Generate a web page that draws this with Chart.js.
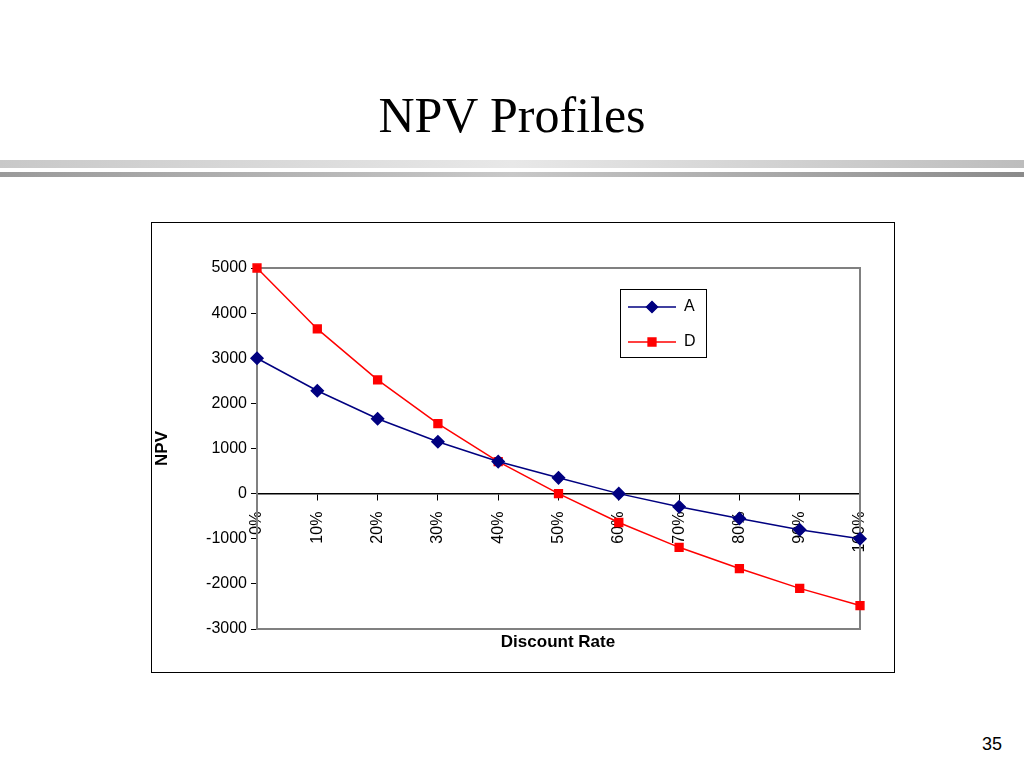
<!DOCTYPE html>
<html><head><meta charset="utf-8">
<script src="https://cdn.jsdelivr.net/npm/chart.js@4"></script>
<style>
body{margin:0;width:1024px;height:768px;background:#fff;position:relative;overflow:hidden;font-family:Arial,"Liberation Sans",sans-serif}
#title{position:absolute;top:86px;left:0;width:1024px;text-align:center;font-family:"Liberation Serif","DejaVu Serif",serif;font-size:50px;color:#000}
.bar1{position:absolute;left:0;width:1024px;top:160px;height:8px;background:linear-gradient(to right,#c8c8c8,#e8e8e8 50%,#bdbdbd)}
.bar2{position:absolute;left:0;width:1024px;top:172px;height:5px;background:linear-gradient(to right,#9a9a9a,#c8c8c8 50%,#8a8a8a)}
#box{position:absolute;left:151px;top:222px;width:744px;height:451px;border:1px solid #000;box-sizing:border-box}
#box canvas{position:absolute;left:0;top:0}
#xt{position:absolute;left:151px;top:632px;width:744px;text-align:center;font-weight:bold;font-size:17px;padding-left:70px;box-sizing:border-box}
#pg{position:absolute;right:22px;top:734px;font-size:18px}
</style></head><body>
<div id="title">NPV Profiles</div>
<div class="bar1"></div><div class="bar2"></div>
<div id="box"><canvas id="c" width="742" height="449"></canvas></div>
<div id="xt">Discount Rate</div>
<div id="pg">35</div>
<script>
const rates = ['0%','10%','20%','30%','40%','50%','60%','70%','80%','90%','100%'];
const npvA = [3000, 2280, 1660, 1150, 710, 350, 0, -290, -550, -800, -1000];
const npvD = [5000, 3650, 2520, 1550, 710, 0, -640, -1190, -1660, -2100, -2480];

const frame = {
  id: 'frame',
  beforeDatasetsDraw(chart) {
    const a = chart.chartArea, ctx = chart.ctx;
    ctx.save();
    ctx.strokeStyle = '#808080'; ctx.lineWidth = 2;
    ctx.strokeRect(a.left, a.top, a.right - a.left, a.bottom - a.top);
    ctx.restore();
  },
  afterDraw(chart) {
    const ctx = chart.ctx;
    ctx.save();
    ctx.fillStyle = '#fff'; ctx.strokeStyle = '#000'; ctx.lineWidth = 1;
    ctx.fillRect(468.5, 66.5, 86, 68); ctx.strokeRect(468.5, 66.5, 86, 68);
    ctx.font = '16px Arial'; ctx.textBaseline = 'middle';
    const items = [['A', '#000080', 'rectRot', 84], ['D', '#ff0000', 'rect', 119]];
    items.forEach(([t, c, s, y]) => {
      ctx.strokeStyle = c; ctx.lineWidth = 1.5;
      ctx.beginPath(); ctx.moveTo(476, y); ctx.lineTo(524, y); ctx.stroke();
      ctx.fillStyle = c;
      Chart.helpers.drawPoint(ctx, {pointStyle: s, radius: 5.5, borderWidth: 1}, 500, y);
      ctx.fill();
      ctx.fillStyle = '#000'; ctx.fillText(t, 532, y);
    });
    ctx.restore();
  }
};

new Chart(document.getElementById('c'), {
  type: 'line',
  data: {
    labels: rates,
    datasets: [
      {label: 'A', data: npvA, borderColor: '#000080', backgroundColor: '#000080', borderWidth: 1.5, pointStyle: 'rectRot', pointRadius: 6, tension: 0, clip: false},
      {label: 'D', data: npvD, borderColor: '#ff0000', backgroundColor: '#ff0000', borderWidth: 1.5, pointStyle: 'rect', pointRadius: 5.5, tension: 0, clip: false}
    ]
  },
  options: {
    responsive: false, animation: false,
    layout: {padding: {left: 0, top: 45, right: 34, bottom: 43}},
    plugins: {legend: {display: false}, tooltip: {enabled: false}},
    scales: {
      x: {
        position: {y: 0}, offset: false,
        grid: {drawOnChartArea: false, tickLength: 6, color: '#000'},
        border: {color: '#000', width: 1.5},
        ticks: {color: '#000', font: {size: 16, family: 'Arial'}, minRotation: 90, maxRotation: 90, autoSkip: false, padding: 12}
      },
      y: {
        min: -3000, max: 5000,
        afterFit(s) { s.width = 105; },
        grid: {drawOnChartArea: false, tickLength: 6, color: '#000'},
        border: {color: '#000', width: 1.5},
        ticks: {stepSize: 1000, color: '#000', font: {size: 16, family: 'Arial'}, padding: 4, callback: v => String(v)},
        title: {display: true, text: 'NPV', color: '#000', font: {size: 17, weight: 'bold', family: 'Arial'}, padding: {top: 0, bottom: 4}}
      }
    }
  },
  plugins: [frame]
});
</script>
</body></html>
